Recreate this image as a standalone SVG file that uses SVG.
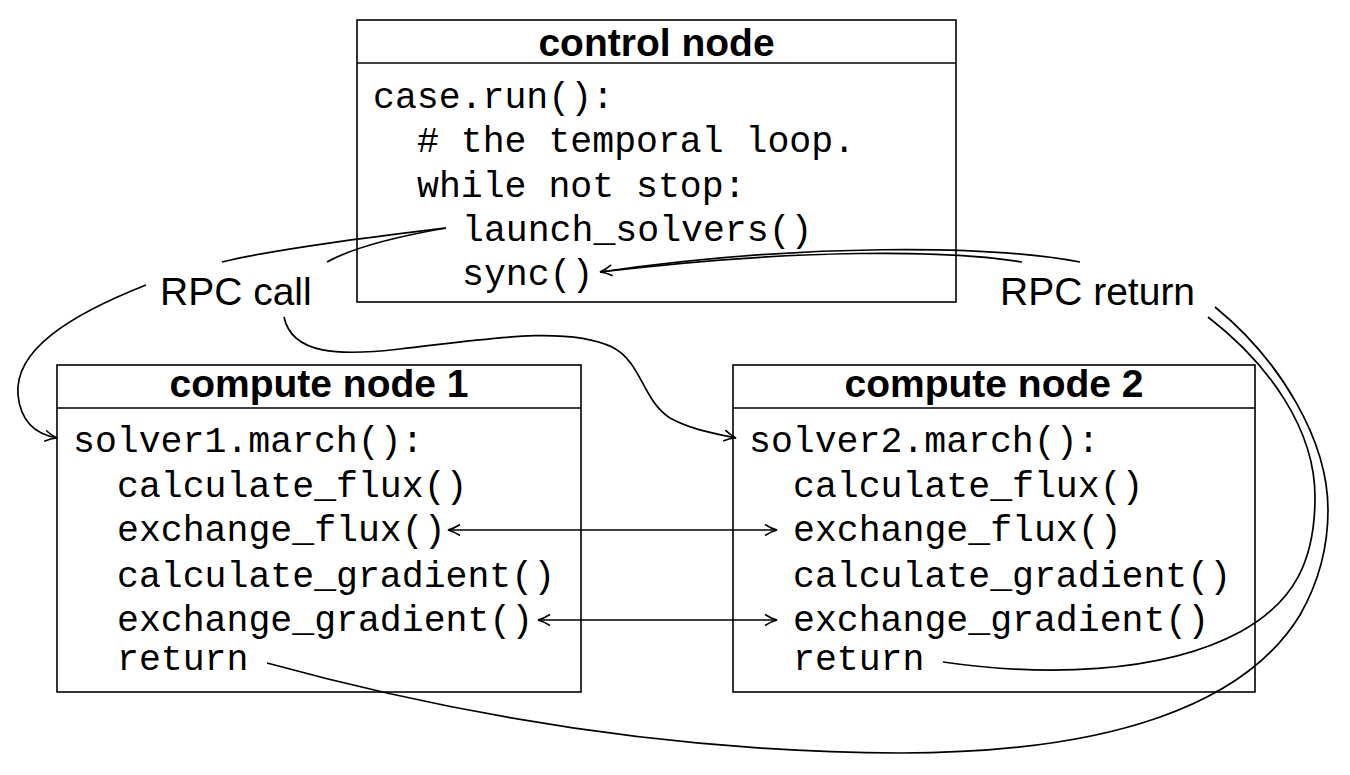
<svg xmlns="http://www.w3.org/2000/svg" width="1350" height="775" viewBox="0 0 1350 775">
<style>
.box{fill:#fff;stroke:#000;stroke-width:1.6}
.div{stroke:#000;stroke-width:1.6}
.title{font-family:"Liberation Sans",Arial,sans-serif;font-weight:bold;font-size:39px;text-anchor:middle;fill:#000}
.code{font-family:"Liberation Mono","Courier New",monospace;font-size:36.5px;fill:#000}
.lbl{font-family:"Liberation Sans",Arial,sans-serif;font-size:39px;fill:#000}
.c{fill:none;stroke:#000;stroke-width:1.7}
</style>
<defs>
<marker id="ah" viewBox="0 0 14 14" refX="13" refY="7" markerWidth="14" markerHeight="14" markerUnits="userSpaceOnUse" orient="auto-start-reverse">
<path d="M1,1.5 Q7,5.5 13,7 Q7,8.5 1,12.5" fill="none" stroke="#000" stroke-width="1.6"/>
</marker>
</defs>
<g id="control-node">
<rect class="box" x="357" y="20" width="599" height="282"/>
<line class="div" x1="357" y1="63" x2="956" y2="63"/>
<text class="title" x="656.5" y="56">control node</text>
<text class="code" x="373" y="108">case.run():</text>
<text class="code" x="417" y="152"># the temporal loop.</text>
<text class="code" x="417" y="197">while not stop:</text>
<text class="code" x="462" y="241">launch_solvers()</text>
<text class="code" x="462" y="285">sync()</text>
</g>
<g id="compute-node-1">
<rect class="box" x="57" y="365" width="524" height="327"/>
<line class="div" x1="57" y1="408" x2="581" y2="408"/>
<text class="title" x="319" y="397">compute node 1</text>
<text class="code" x="73" y="452">solver1.march():</text>
<text class="code" x="117" y="497">calculate_flux()</text>
<text class="code" x="117" y="541">exchange_flux()</text>
<text class="code" x="117" y="587">calculate_gradient()</text>
<text class="code" x="117" y="631">exchange_gradient()</text>
<text class="code" x="117" y="670">return</text>
</g>
<g id="compute-node-2">
<rect class="box" x="733" y="365" width="522" height="327"/>
<line class="div" x1="733" y1="408" x2="1255" y2="408"/>
<text class="title" x="994" y="397">compute node 2</text>
<text class="code" x="749" y="452">solver2.march():</text>
<text class="code" x="793" y="497">calculate_flux()</text>
<text class="code" x="793" y="541">exchange_flux()</text>
<text class="code" x="793" y="587">calculate_gradient()</text>
<text class="code" x="793" y="631">exchange_gradient()</text>
<text class="code" x="793" y="670">return</text>
</g>
<g id="rpc-call">
<text class="lbl" x="160" y="305">RPC call</text>
</g>
<g id="rpc-return">
<text class="lbl" x="1000" y="305">RPC return</text>
</g>
<g id="connectors">
<path class="c" d="M446,228 C380,236 280,248 222,262"/>
<path class="c" d="M446,228 C400,236 352,248 327,262"/>
<path class="c" d="M146,285 C70,315 14,350 18,395 C21,425 40,435 57,438" marker-end="url(#ah)"/>
<path class="c" d="M284,317 C292,355 340,356 400,349 C480,340 565,325 612,347 C642,362 642,400 670,418 C690,429 712,433 736,438" marker-end="url(#ah)"/>
<path class="c" d="M448,530 L777,530" marker-start="url(#ah)" marker-end="url(#ah)"/>
<path class="c" d="M538,620 L777,620" marker-start="url(#ah)" marker-end="url(#ah)"/>
<path class="c" d="M943,662 C1040,676 1160,675 1240,632 C1295,602 1315,560 1315,497 C1315,430 1270,365 1208,317"/>
<path class="c" d="M267,663 C420,705 640,752 900,753 C1110,753 1245,705 1300,615 C1320,580 1328,545 1328,510 C1328,440 1280,360 1215,307"/>
<path class="c" d="M1080,262 C990,245 800,243 600,272" marker-end="url(#ah)"/>
<path class="c" d="M1022,262 C950,250 800,248 600,272"/>
</g>
</svg>
